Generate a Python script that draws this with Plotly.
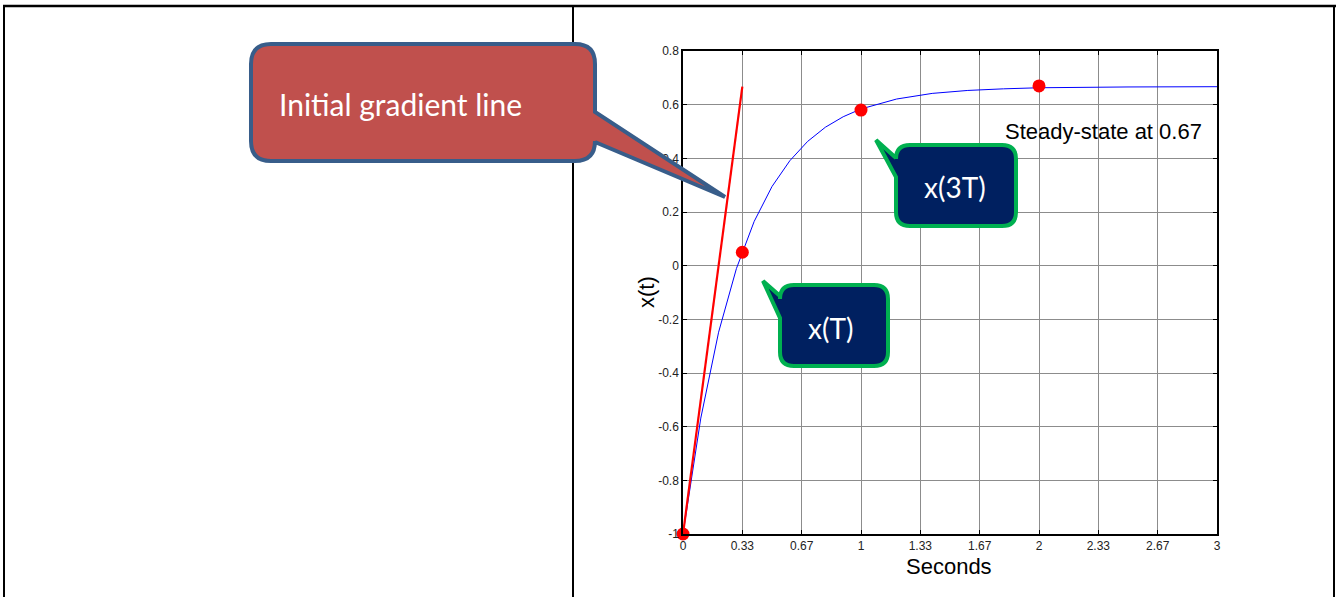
import plotly.graph_objects as go

# ---------------- data ----------------
t_vals = [0, 0.1, 0.2, 0.3, 0.4, 0.5, 0.6, 0.7, 0.8, 0.9, 1.0, 1.2, 1.4, 1.6, 1.8, 2.0, 2.5, 3.0]
x_vals = [-1.0, -0.568, -0.248, -0.011, 0.165, 0.295, 0.391, 0.463, 0.516, 0.555, 0.584,
          0.621, 0.642, 0.653, 0.659, 0.663, 0.666, 0.667]

gradient_t = [0, 0.3333]
gradient_x = [-1.0, 0.667]

point_t = [0, 0.3333, 1.0, 2.0]
point_x = [-1.0, 0.05, 0.58, 0.67]

x_tick_vals = [0, 0.3333, 0.6667, 1, 1.3333, 1.6667, 2, 2.3333, 2.6667, 3]
x_tick_text = ["0", "0.33", "0.67", "1", "1.33", "1.67", "2", "2.33", "2.67", "3"]
y_tick_vals = [-1, -0.8, -0.6, -0.4, -0.2, 0, 0.2, 0.4, 0.6, 0.8]
y_tick_text = ["-1", "-0.8", "-0.6", "-0.4", "-0.2", "0", "0.2", "0.4", "0.6", "0.8"]

# ---------------- page geometry ----------------
W, H = 1336, 597
PL, PR, PT, PB = 683, 1217, 51, 534   # plot-area pixel box in window coords


def px(x):
    return (x - PL) / (PR - PL)


def py(y):
    return (PB - y) / (PB - PT)


def callout_path(x0, y0, x1, y1, r, side, p_a, tip, p_b):
    """Rounded rectangle with a pointer on the given side (pixel coords)."""
    pts = []
    def M(x, y): pts.append(f"M{px(x):.5f},{py(y):.5f}")
    def L(x, y): pts.append(f"L{px(x):.5f},{py(y):.5f}")
    def Q(cx, cy, x, y): pts.append(f"Q{px(cx):.5f},{py(cy):.5f} {px(x):.5f},{py(y):.5f}")
    M(x0 + r, y0)
    L(x1 - r, y0)
    Q(x1, y0, x1, y0 + r)
    if side == "right":
        L(x1, p_a); L(*tip); L(x1, p_b)
    L(x1, y1 - r)
    Q(x1, y1, x1 - r, y1)
    L(x0 + r, y1)
    Q(x0, y1, x0, y1 - r)
    if side == "left":
        L(x0, p_b); L(*tip); L(x0, p_a)
    L(x0, y0 + r)
    Q(x0, y0, x0 + r, y0)
    pts.append("Z")
    return " ".join(pts)


fig = go.Figure()

fig.add_trace(go.Scatter(x=t_vals, y=x_vals, mode="lines",
                         line=dict(color="#0000FF", width=1), cliponaxis=False,
                         showlegend=False, hoverinfo="skip"))
fig.add_trace(go.Scatter(x=gradient_t, y=gradient_x, mode="lines",
                         line=dict(color="#FF0000", width=2.2), cliponaxis=False,
                         showlegend=False, hoverinfo="skip"))
fig.add_trace(go.Scatter(x=point_t, y=point_x, mode="markers",
                         marker=dict(color="#FF0000", size=13), cliponaxis=False,
                         showlegend=False, hoverinfo="skip"))

shapes = []
# table borders
bc = "#000000"
shapes.append(dict(type="line", xref="paper", yref="paper", x0=px(3), x1=px(1340), y0=py(6), y1=py(6),
                   line=dict(color=bc, width=2.5)))
for xx in (4, 573, 1334):
    shapes.append(dict(type="line", xref="paper", yref="paper", x0=px(xx), x1=px(xx), y0=py(6), y1=py(600),
                       line=dict(color=bc, width=2)))

# red callout
shapes.append(dict(type="path", xref="paper", yref="paper",
                   path=callout_path(251, 44, 595, 161, 20, "right", 112, (725, 197), 142),
                   fillcolor="#C0504D", line=dict(color="#385D8A", width=4)))
# x(3T) callout
shapes.append(dict(type="path", xref="paper", yref="paper",
                   path=callout_path(896, 145, 1016, 226, 14, "left", 158, (876, 140), 177),
                   fillcolor="#002060", line=dict(color="#00B050", width=4)))
# x(T) callout
shapes.append(dict(type="path", xref="paper", yref="paper",
                   path=callout_path(780, 285, 888, 366, 14, "left", 296, (763, 281), 318),
                   fillcolor="#002060", line=dict(color="#00B050", width=4)))

annotations = [
    dict(xref="paper", yref="paper", x=px(277), y=py(104), text="Initial gradient line",
         showarrow=False, xanchor="left", yanchor="middle",
         font=dict(family="Lato, Open Sans, sans-serif", size=30, color="white")),
    dict(xref="paper", yref="paper", x=px(955), y=py(187), text="x(3T)",
         showarrow=False, xanchor="center", yanchor="middle",
         font=dict(family="Lato, Open Sans, sans-serif", size=28, color="white")),
    dict(xref="paper", yref="paper", x=px(830), y=py(328), text="x(T)",
         showarrow=False, xanchor="center", yanchor="middle",
         font=dict(family="Lato, Open Sans, sans-serif", size=28, color="white")),
    dict(xref="paper", yref="paper", x=px(1003), y=py(131), text="Steady-state at 0.67",
         showarrow=False, xanchor="left", yanchor="middle",
         font=dict(family="Liberation Sans, Arial, sans-serif", size=22, color="black")),
    dict(xref="paper", yref="paper", x=px(949), y=py(566), text="Seconds",
         showarrow=False, xanchor="center", yanchor="middle",
         font=dict(family="Liberation Sans, Arial, sans-serif", size=22, color="black")),
    dict(xref="paper", yref="paper", x=px(646), y=py(292), text="x(t)", textangle=-90,
         showarrow=False, xanchor="center", yanchor="middle",
         font=dict(family="Liberation Sans, Arial, sans-serif", size=22, color="black")),
]

axis_common = dict(showline=True, linecolor="#000000", linewidth=1.5, mirror="ticks",
                   ticks="inside", ticklen=4, tickcolor="#000000",
                   showgrid=True, gridcolor="#8c8c8c", gridwidth=1, zeroline=False,
                   tickfont=dict(family="Liberation Sans, Arial, sans-serif", size=12, color="#222222"))

fig.update_layout(
    width=W, height=H,
    margin=dict(l=PL, r=W - PR, t=PT, b=H - PB, pad=0),
    paper_bgcolor="white", plot_bgcolor="white",
    xaxis=dict(range=[0, 3], tickvals=x_tick_vals, ticktext=x_tick_text, **axis_common),
    yaxis=dict(range=[-1, 0.8], tickvals=y_tick_vals, ticktext=y_tick_text, **axis_common),
    shapes=shapes, annotations=annotations, showlegend=False,
)

fig.write_html(
    "out.html",
    config={"displayModeBar": False},
    post_script="document.body.style.margin='0';document.body.style.padding='0';"
                "document.body.style.overflow='hidden';",
)
